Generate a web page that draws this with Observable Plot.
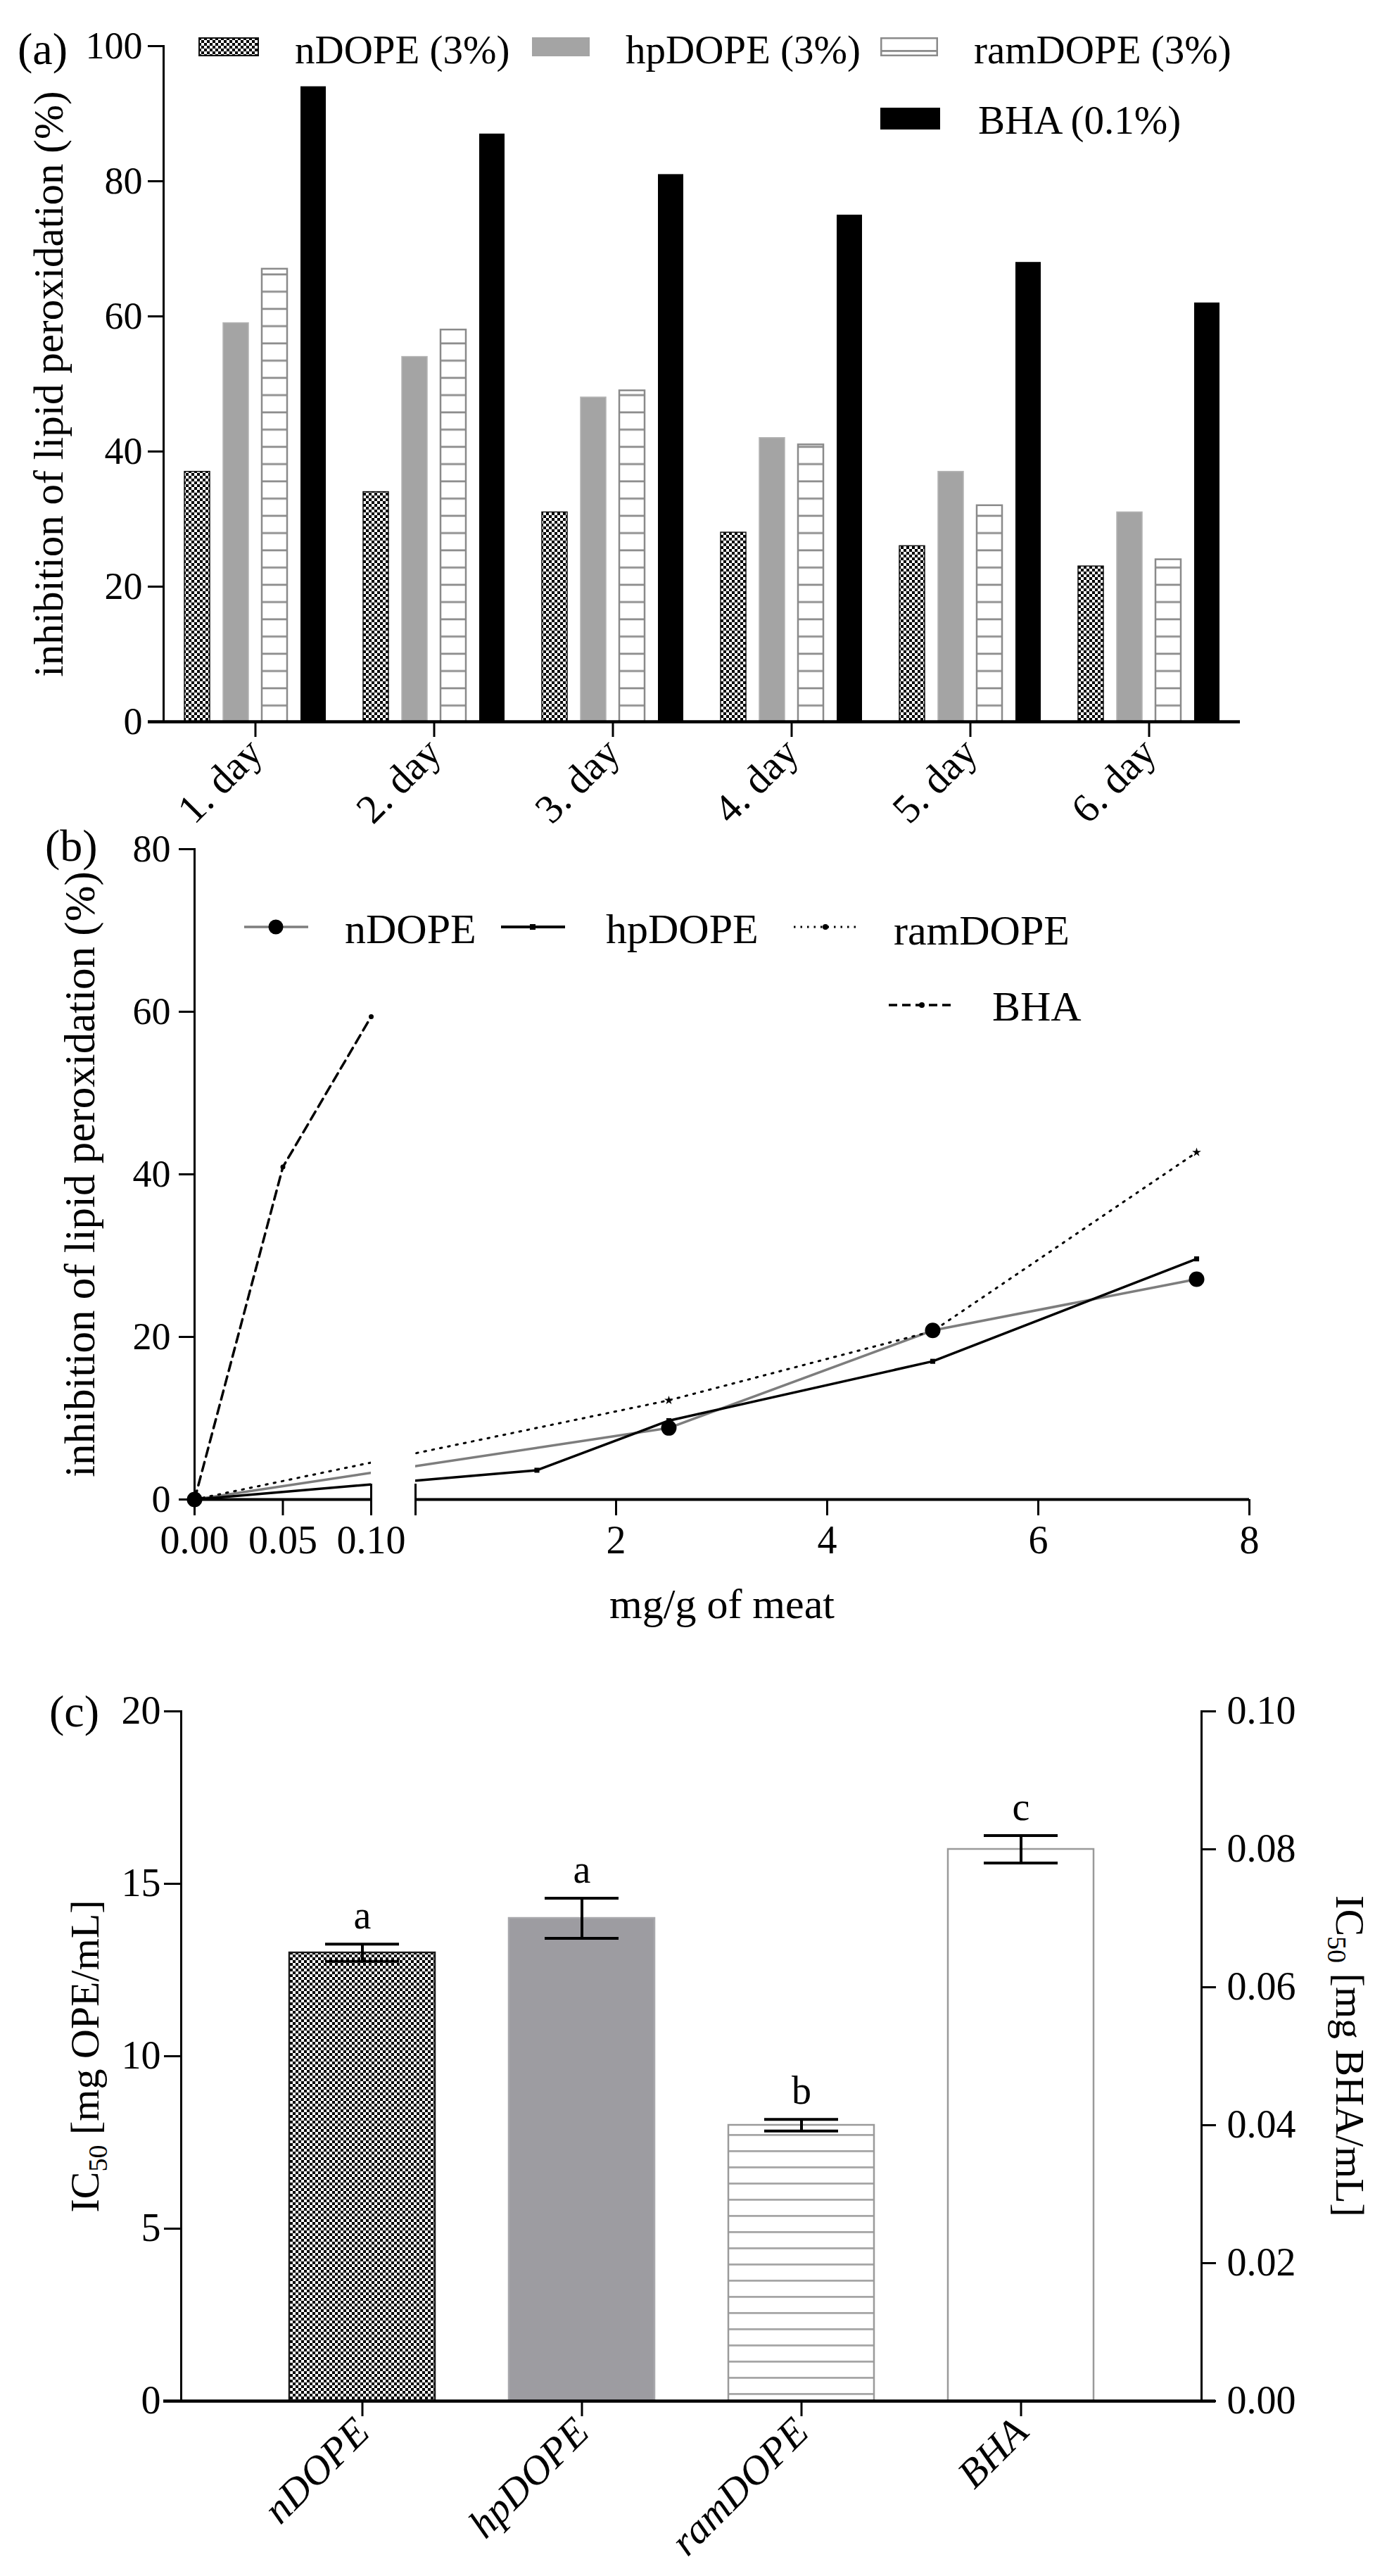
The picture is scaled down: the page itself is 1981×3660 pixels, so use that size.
<!DOCTYPE html>
<html>
<head>
<meta charset="utf-8">
<script src="https://cdn.jsdelivr.net/npm/d3@7"></script>
<script src="https://cdn.jsdelivr.net/npm/@observablehq/plot@0.6"></script>
<style>
  body { margin: 0; background: white; }
  #root { position: relative; width: 1981px; height: 3660px; background: white; overflow: hidden; }
  .panel { position: absolute; left: 0; }
  .lbl { position: absolute; white-space: nowrap; font-family: "Liberation Serif"; color: black; }
  .sw { position: absolute; }
</style>
</head>
<body>
<svg width="0" height="0" style="position:absolute">
  <defs>
    <pattern id="checker" width="8" height="8" patternUnits="userSpaceOnUse">
      <rect width="8" height="8" fill="white"/>
      <rect width="4" height="4" fill="black"/>
      <rect x="4" y="4" width="4" height="4" fill="black"/>
    </pattern>
    <pattern id="stripesA" width="10" height="24.5" patternUnits="userSpaceOnUse">
      <rect width="10" height="24.5" fill="white"/>
      <rect y="21" width="10" height="2.8" fill="#8c8c8c"/>
    </pattern>
    <pattern id="stripesC" width="10" height="23" patternUnits="userSpaceOnUse">
      <rect width="10" height="23" fill="white"/>
      <rect y="20" width="10" height="2.8" fill="#a6a6a6"/>
    </pattern>
  </defs>
</svg>
<div id="root">
  <div class="panel" id="pa" style="top:0px"></div>
  <div class="panel" id="pb" style="top:1195px"></div>
  <div class="panel" id="pc" style="top:2345px"></div>
</div>
<script>
// ---------------- Data: panel (a) ----------------
const days = ["1. day", "2. day", "3. day", "4. day", "5. day", "6. day"];
const seriesA = ["nDOPE (3%)", "hpDOPE (3%)", "ramDOPE (3%)", "BHA (0.1%)"];
const nDOPE_a = [37, 34, 31, 28, 26, 23];
const hpDOPE_a = [59, 54, 48, 42, 37, 31];
const ramDOPE_a = [67, 58, 49, 41, 32, 24];
const BHA_a = [94, 87, 81, 75, 68, 62];
const yTicksA = [0, 20, 40, 60, 80, 100];
const yTitleA = "inhibition of lipid peroxidation (%)";

// ---------------- Data: panel (b) ----------------
const seriesB = ["nDOPE", "hpDOPE", "ramDOPE", "BHA"];
const nDOPE_b_x = [0, 2.5, 5, 7.5];
const nDOPE_b_y = [0, 8.8, 20.8, 27.1];
const hpDOPE_b_x = [0, 1.25, 2.5, 5, 7.5];
const hpDOPE_b_y = [0, 3.6, 9.7, 17.0, 29.6];
const ramDOPE_b_x = [0, 2.5, 5, 7.5];
const ramDOPE_b_y = [0, 12.2, 20.7, 42.7];
const BHA_b_x = [0, 0.05, 0.1];
const BHA_b_y = [0, 40.9, 59.4];
const xTicksB = [0, 0.05, 0.1, 2, 4, 6, 8];
const yTicksB = [0, 20, 40, 60, 80];
const xBreak = [0.1, 0.1001];           // axis break
const xSegments = [[0, 0.1], [0.1001, 8]];
const xTitleB = "mg/g of meat";
const yTitleB = "inhibition of lipid peroxidation (%)";

// ---------------- Data: panel (c) ----------------
const catsC = ["nDOPE", "hpDOPE", "ramDOPE", "BHA"];
const ic50 = [13.0, 14.0, 8.0, 0.080];
const ic50Err = [0.25, 0.58, 0.17, 0.002];
const ic50Axis = ["left", "left", "left", "right"];
const lettersC = ["a", "a", "b", "c"];
const yTicksC = [0, 5, 10, 15, 20];
const rightTicksC = [0, 0.02, 0.04, 0.06, 0.08, 0.10];
const leftMax = 20, rightMax = 0.10;
const yTitleC = "IC50 [mg OPE/mL]";
const yTitleC2 = "IC50 [mg BHA/mL]";

// ---------------- helpers ----------------
const FONT = "Liberation Serif";
const baseStyle = {fontFamily: FONT, fontSize: "54px", background: "white", overflow: "visible", maxWidth: "none"};
const root = document.getElementById("root");

function label(text, left, capCenter, size, extra = "") {
  const d = document.createElement("div");
  d.className = "lbl";
  d.textContent = text;
  d.style.cssText += `left:${left}px;top:${capCenter - 0.5065 * size}px;font-size:${size}px;line-height:${size}px;${extra}`;
  root.appendChild(d);
}
function swatch(svgInner, left, top, w, h) {
  const d = document.createElement("div");
  d.className = "sw";
  d.style.left = left + "px"; d.style.top = top + "px";
  d.innerHTML = `<svg width="${w}" height="${h}" viewBox="0 0 ${w} ${h}">${svgInner}</svg>`;
  root.appendChild(d);
}
function subscripts(svg) {
  svg.querySelectorAll("text").forEach(t => {
    const s = t.textContent;
    if (s.startsWith("IC50")) {
      const ns = "http://www.w3.org/2000/svg";
      t.textContent = "";
      const a = document.createElementNS(ns, "tspan"); a.textContent = "IC";
      const b = document.createElementNS(ns, "tspan"); b.textContent = "50";
      b.setAttribute("font-size", "38"); b.setAttribute("dy", "12");
      const c = document.createElementNS(ns, "tspan"); c.textContent = s.slice(4);
      c.setAttribute("dy", "-12");
      t.append(a, b, c);
    }
  });
}

// ---------------- Panel (a) ----------------
const rowsA = days.map((d, i) => ({day: d, n: nDOPE_a[i], hp: hpDOPE_a[i], ram: ramDOPE_a[i], bha: BHA_a[i]}));
const barW = 36, barStep = 55, groupW = 201;
const ins = i => ({insetLeft: i * barStep, insetRight: Math.max(0, groupW - i * barStep - barW)});

const plotA = Plot.plot({
  width: 1981, height: 1200,
  marginTop: 65, marginBottom: 175, marginLeft: 232, marginRight: 219,
  style: baseStyle,
  x: {domain: days, paddingInner: 0.209, paddingOuter: 0.116},
  y: {domain: [0, 100]},
  marks: [
    Plot.barY(rowsA, {x: "day", y: "n", fill: "url(#checker)", stroke: "#111", strokeWidth: 1.5, ...ins(0)}),
    Plot.barY(rowsA, {x: "day", y: "hp", fill: "#a4a4a4", stroke: "#b4b4b4", strokeWidth: 1.5, ...ins(1)}),
    Plot.barY(rowsA, {x: "day", y: "ram", fill: "url(#stripesA)", stroke: "#8a8a8a", strokeWidth: 2.5, ...ins(2)}),
    Plot.barY(rowsA, {x: "day", y: "bha", fill: "black", ...ins(3)}),
    Plot.ruleY([0], {strokeWidth: 4.5, insetLeft: -22}),
    Plot.frame({anchor: "left", strokeWidth: 3}),
    Plot.axisY({ticks: yTicksA, tickSize: 22, tickPadding: 8, fontSize: 54, strokeWidth: 3, label: null}),
    Plot.axisX({tickSize: 22, tickPadding: 12, tickRotate: -45, fontSize: 58, strokeWidth: 3, label: null}),
    Plot.text([yTitleA], {text: d => d, frameAnchor: "left", textAnchor: "middle", rotate: -90, dx: -162, fontSize: 59})
  ]
});
document.getElementById("pa").appendChild(plotA);

// legend (a)
swatch(`<rect x="1" y="1" width="84" height="25" fill="url(#checker)" stroke="#111" stroke-width="2"/>`, 282, 53, 86, 27);
label(seriesA[0], 419, 71, 57);
swatch(`<rect x="0" y="0" width="82" height="27" fill="#a4a4a4"/>`, 756, 53, 82, 27);
label(seriesA[1], 889, 71, 57);
swatch(`<rect x="1.25" y="1.25" width="79.5" height="24.5" fill="white" stroke="#8a8a8a" stroke-width="2.5"/><rect x="1" y="18" width="80" height="2.8" fill="#8c8c8c"/>`, 1251, 53, 82, 27);
label(seriesA[2], 1384, 71, 57);
swatch(`<rect x="0" y="0" width="85" height="31" fill="black"/>`, 1251, 153, 85, 31);
label(seriesA[3], 1390, 171, 57);
label("(a)", 25, 70, 64);

// ---------------- Panel (b) ----------------
const mk = (xs, ys) => xs.map((x, i) => ({x, y: ys[i]}));
const nRows = mk(nDOPE_b_x, nDOPE_b_y);
const hpRows = mk(hpDOPE_b_x, hpDOPE_b_y);
const ramRows = mk(ramDOPE_b_x, ramDOPE_b_y);
const bhaRows = mk(BHA_b_x, BHA_b_y);

const plotB = Plot.plot({
  width: 1981, height: 1150,
  marginTop: 11, marginBottom: 215, marginLeft: 276, marginRight: 206,
  style: baseStyle,
  x: {type: "linear", domain: [0, xBreak[0], xBreak[1], 8], range: [276, 527, 590, 1775]},
  y: {domain: [0, 80]},
  marks: [
    Plot.line(nRows, {x: "x", y: "y", stroke: "#7d7d7d", strokeWidth: 3.5}),
    Plot.line(hpRows, {x: "x", y: "y", stroke: "black", strokeWidth: 3.5}),
    Plot.line(ramRows, {x: "x", y: "y", stroke: "black", strokeWidth: 3, strokeDasharray: "2.5 9"}),
    Plot.line(bhaRows, {x: "x", y: "y", stroke: "black", strokeWidth: 3.5, strokeDasharray: "13 8"}),
    Plot.rect([xBreak], {x1: d => d[0], x2: d => d[1], y1: 0, y2: 80, fill: "white", insetBottom: 3}),
    Plot.ruleY(xSegments, {x1: d => d[0], x2: d => d[1], y: 0, strokeWidth: 4}),
    Plot.ruleX(xBreak, {x: d => d, y1: 0, y2: 0, insetTop: -22, insetBottom: -23, strokeWidth: 3}),
    Plot.frame({anchor: "left", strokeWidth: 3}),
    Plot.axisY({ticks: yTicksB, tickSize: 22, tickPadding: 12, fontSize: 54, strokeWidth: 3, label: null}),
    Plot.axisX({ticks: xTicksB, tickFormat: d => d < 1 ? d.toFixed(2) : String(d), tickSize: 23, tickPadding: 14, fontSize: 56, strokeWidth: 3, label: null}),
    Plot.dot(ramRows, {x: "x", y: "y", r: 4, fill: "black", symbol: "star"}),
    Plot.dot(bhaRows, {x: "x", y: "y", r: 3.5, fill: "black"}),
    Plot.dot(hpRows, {x: "x", y: "y", r: 4, fill: "black", symbol: "square"}),
    Plot.dot(nRows, {x: "x", y: "y", r: 11, fill: "black"}),
    Plot.text([yTitleB], {text: d => d, frameAnchor: "left", textAnchor: "middle", rotate: -90, dx: -162, fontSize: 61}),
    Plot.text([xTitleB], {text: d => d, frameAnchor: "bottom", textAnchor: "middle", dy: 168, fontSize: 60})
  ]
});
document.getElementById("pb").appendChild(plotB);

// legend (b)
const LB1 = 1317, LB2 = 1428;
swatch(`<line x1="0" y1="12" x2="91" y2="12" stroke="#7d7d7d" stroke-width="3.5"/><circle cx="45" cy="12" r="10.5" fill="black"/>`, 347, LB1 - 12, 91, 24);
label(seriesB[0], 490, 1320, 60);
swatch(`<line x1="0" y1="12" x2="91" y2="12" stroke="black" stroke-width="4"/><rect x="41" y="8" width="8" height="8" fill="black"/>`, 712, LB1 - 12, 91, 24);
label(seriesB[1], 861, 1320, 60);
swatch(`<line x1="0" y1="12" x2="91" y2="12" stroke="black" stroke-width="3" stroke-dasharray="2.5 7"/><circle cx="45" cy="12" r="4" fill="black"/>`, 1128, LB1 - 12, 91, 24);
label(seriesB[2], 1270, 1322, 60);
swatch(`<line x1="0" y1="12" x2="93" y2="12" stroke="black" stroke-width="3.5" stroke-dasharray="12 7"/><circle cx="47" cy="12" r="4" fill="black"/>`, 1263, LB2 - 12, 93, 24);
label(seriesB[3], 1410, 1430, 60);
label("(b)", 64, 1202, 64);

// ---------------- Panel (c) ----------------
const kC = leftMax / rightMax;
const rowsC = catsC.map((c, i) => {
  const k = ic50Axis[i] === "right" ? kC : 1;
  return {cat: c, v: ic50[i] * k, lo: (ic50[i] - ic50Err[i]) * k, hi: (ic50[i] + ic50Err[i]) * k, letter: lettersC[i]};
});
const fillsC = {nDOPE: "url(#checker)", hpDOPE: "#9d9ca1", ramDOPE: "url(#stripesC)", BHA: "white"};
const strokesC = {nDOPE: "#1a1a1a", hpDOPE: "#a8a8ac", ramDOPE: "#9a9a9a", BHA: "#9a9a9a"};

const plotC = Plot.plot({
  width: 1981, height: 1315,
  marginTop: 86, marginBottom: 249, marginLeft: 257, marginRight: 274,
  style: baseStyle,
  x: {domain: catsC, paddingInner: 0.337, paddingOuter: 0.492},
  y: {domain: [0, leftMax]},
  marks: [
    ...catsC.map(c => Plot.barY(rowsC.filter(r => r.cat === c), {x: "cat", y: "v", fill: fillsC[c], stroke: strokesC[c], strokeWidth: 2.5})),
    Plot.ruleX(rowsC, {x: "cat", y1: "lo", y2: "hi", strokeWidth: 4}),
    Plot.tickY(rowsC, {x: "cat", y: "lo", strokeWidth: 4, insetLeft: 51, insetRight: 51}),
    Plot.tickY(rowsC, {x: "cat", y: "hi", strokeWidth: 4, insetLeft: 51, insetRight: 51}),
    Plot.text(rowsC, {x: "cat", y: "hi", text: "letter", dy: -40, fontSize: 56}),
    Plot.ruleY([0], {strokeWidth: 4.5, insetLeft: -25, insetRight: -20}),
    Plot.frame({anchor: "left", strokeWidth: 3}),
    Plot.frame({anchor: "right", strokeWidth: 3}),
    Plot.axisY({ticks: yTicksC, tickSize: 24, tickPadding: 5, fontSize: 56, strokeWidth: 3, label: null}),
    Plot.axisY({anchor: "right", ticks: rightTicksC.map(t => t * kC), tickFormat: d => (d / kC).toFixed(2), tickSize: 20, tickPadding: 16, fontSize: 56, strokeWidth: 3, label: null}),
    Plot.axisX({tickSize: 22, tickPadding: 12, tickRotate: -45, fontSize: 58, fontStyle: "italic", strokeWidth: 3, label: null}),
    Plot.text([yTitleC], {text: d => d, frameAnchor: "left", textAnchor: "middle", rotate: -90, dx: -136, fontSize: 58}),
    Plot.text([yTitleC2], {text: d => d, frameAnchor: "right", textAnchor: "middle", rotate: 90, dx: 210, fontSize: 58})
  ]
});
subscripts(plotC);
document.getElementById("pc").appendChild(plotC);
label("(c)", 70, 2432, 64);
</script>
</body>
</html>
